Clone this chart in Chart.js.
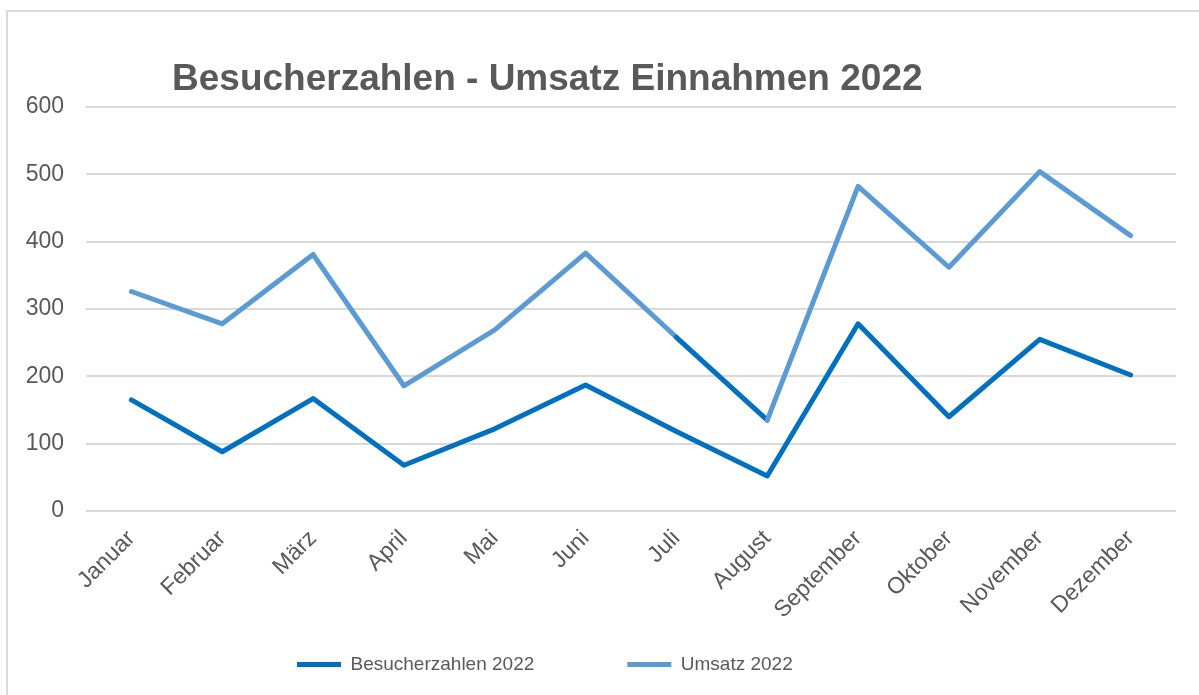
<!DOCTYPE html>
<html>
<head>
<meta charset="utf-8">
<script src="https://cdn.jsdelivr.net/npm/chart.js@4.4.0/dist/chart.umd.min.js"></script>
<style>
  html, body { margin: 0; padding: 0; background: #ffffff; }
  #frame { position: absolute; left: 6px; top: 10px; width: 1196px; height: 700px; border: 2px solid #d9d9d9; box-sizing: border-box; }
  #wrap { position: absolute; left: 0; top: 0; width: 1199px; height: 695px; }
</style>
</head>
<body>
<div id="frame"></div>
<div id="wrap"><canvas id="c" width="1199" height="695"></canvas></div>
<script>
const chartTitle = "Besucherzahlen - Umsatz Einnahmen 2022";
const months = ["Januar", "Februar", "März", "April", "Mai", "Juni", "Juli", "August", "September", "Oktober", "November", "Dezember"];
const besucher2022 = [165, 88, 167, 68, 122, 187, 118, 52, 278, 140, 255, 202];
const umsatz2022 = [326, 278, 381, 186, 269, 383, 258, 135, 482, 362, 504, 409];
const yTicks = [0, 100, 200, 300, 400, 500, 600];

const DARK = "#0070C0";
const LIGHT = "#5B9BD5";
const TEXT = "#595959";
const FONT = "'Liberation Sans', Arial, sans-serif";

const titlePlugin = {
  id: "customTitle",
  afterDraw(chart) {
    const ctx = chart.ctx;
    ctx.save();
    ctx.font = "bold 37px " + FONT;
    ctx.fillStyle = TEXT;
    ctx.textAlign = "left";
    ctx.textBaseline = "alphabetic";
    ctx.fillText(chartTitle, 172, 90);
    ctx.restore();
  }
};

// legend: wide gap between items, placed at a fixed spot
const LEGEND_X0 = 297;
const LEGEND_TEXT_TOP = 655;
const legendFitPlugin = {
  id: "legendFit",
  beforeInit(chart) {
    const lg = chart.legend;
    const origFit = lg.fit;
    lg.fit = function () {
      origFit.call(this);
      this.height = 40;
    };
    const origDraw = lg.draw;
    lg.draw = function () {
      const t = this.top, l = this.left, r = this.right;
      const p = this.options.labels.padding;
      const lw = this.lineWidths ? this.lineWidths[0] : 0;
      const x0 = (l + p + r - lw) / 2;
      const d = LEGEND_X0 - x0;
      this.left = l + d; this.right = r + d;
      this.top = LEGEND_TEXT_TOP - p;
      origDraw.call(this);
      this.top = t; this.left = l; this.right = r;
    };
  }
};

new Chart(document.getElementById("c"), {
  type: "line",
  data: {
    labels: months,
    datasets: [
      {
        label: "Besucherzahlen 2022",
        data: besucher2022,
        borderColor: DARK,
        backgroundColor: DARK,
        borderWidth: 5,
        pointRadius: 0,
        borderJoinStyle: "round",
        borderCapStyle: "round",
        tension: 0
      },
      {
        label: "Umsatz 2022",
        data: umsatz2022,
        borderColor: LIGHT,
        backgroundColor: LIGHT,
        borderWidth: 5,
        pointRadius: 0,
        borderJoinStyle: "round",
        borderCapStyle: "round",
        tension: 0,
        segment: {
          borderColor: ctx => (ctx.p0DataIndex === 6 ? DARK : undefined)
        }
      }
    ]
  },
  options: {
    responsive: false,
    animation: false,
    layout: { padding: { top: 107, right: 23, bottom: 0, left: 0 } },
    plugins: {
      title: { display: false },
      tooltip: { enabled: false },
      legend: {
        display: true,
        position: "bottom",
        labels: {
          usePointStyle: true,
          pointStyle: "line",
          pointStyleWidth: 44,
          boxHeight: 5,
          padding: 93,
          color: TEXT,
          font: { family: FONT, size: 19 }
        }
      }
    },
    scales: {
      x: {
        offset: true,
        grid: { display: false, drawTicks: false },
        border: { display: false },
        ticks: {
          color: TEXT,
          font: { family: FONT, size: 23 },
          maxRotation: 45,
          minRotation: 45,
          autoSkip: false,
          padding: 14
        },
        afterFit(scale) { scale.height = 144; }
      },
      y: {
        min: 0,
        max: 600,
        afterBuildTicks(scale) { scale.ticks = yTicks.map(v => ({ value: v })); },
        grid: { color: "#d9d9d9", lineWidth: 2, drawTicks: false },
        border: { display: false },
        ticks: {
          color: TEXT,
          font: { family: FONT, size: 23 },
          padding: 22
        },
        afterFit(scale) { scale.width = 86; }
      }
    }
  },
  plugins: [titlePlugin, legendFitPlugin]
});
</script>
</body>
</html>
